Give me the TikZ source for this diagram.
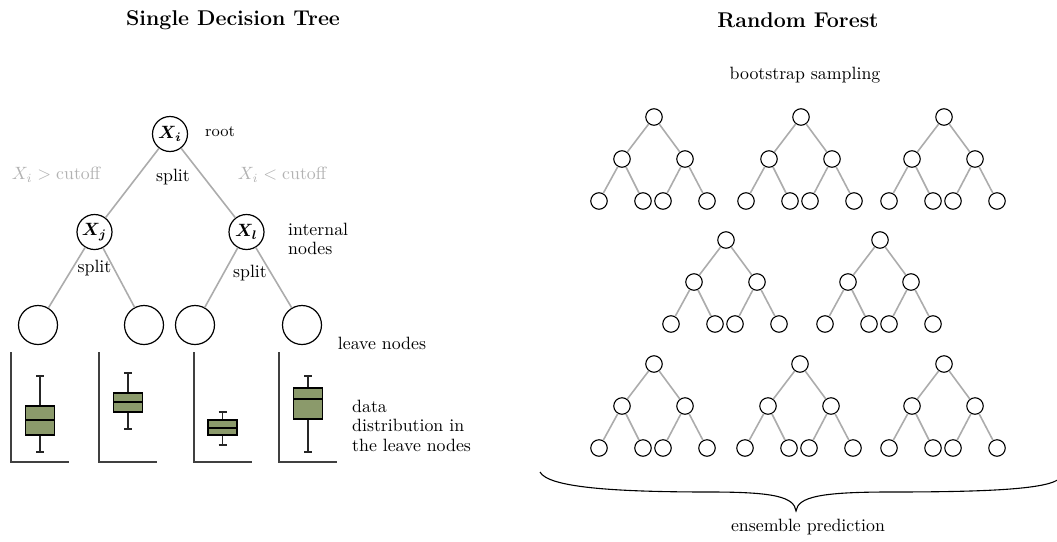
\documentclass[tikz,border=0pt]{standalone}
\usepackage{amsmath,bm,graphicx}
\definecolor{edgegray}{RGB}{172,172,172}
\definecolor{labelgray}{RGB}{178,178,178}
\definecolor{boxgreen}{RGB}{139,154,107}
% text is set at its normal design size and enlarged as a whole
\newcommand\enl[1]{\scalebox{1.78}{#1}}
\newcommand\lines[1]{\enl{\fontsize{10}{11.2}\selectfont\begin{tabular}{@{}l@{}}#1\end{tabular}}}
\tikzset{
  txt/.style={inner sep=0pt},
  vnode/.style={circle, draw=black, line width=1.2pt, minimum size=35pt, inner sep=0pt},
  leafnode/.style={circle, draw=black, line width=1.2pt, minimum size=39pt, inner sep=0pt},
  tnode/.style={circle, draw=black, line width=1.1pt, minimum size=16.5pt, inner sep=0pt},
  edge/.style={draw=edgegray, line width=1.6pt},
  axisline/.style={draw=black!75, line width=1.2pt},
  boxpart/.style={draw=black, line width=1.2pt},
  whisker/.style={draw=black!85, line width=1.1pt},
}
% one box plot: centre x, box top/median/bottom, whisker ends
\newcommand\leafbox[6]{%
  \draw[whisker] (#1,#5) -- (#1,#6);
  \draw[whisker] (#1-4,#5) -- (#1+4,#5) (#1-4,#6) -- (#1+4,#6);
  \draw[boxpart, fill=boxgreen] (#1-14.5,#2) rectangle (#1+14.5,#4);
  \draw[boxpart] (#1-14.5,#3) -- (#1+14.5,#3);
}
% a small binary tree of depth two, rooted at (#2,#3)
\newcommand\minitree[3]{%
  \node[tnode] (#1r)  at (#2,#3) {};
  \node[tnode] (#1a)  at (#2-32,#3+42) {};
  \node[tnode] (#1b)  at (#2+31,#3+42) {};
  \node[tnode] (#1aa) at (#2-55,#3+84) {};
  \node[tnode] (#1ab) at (#2-11,#3+84) {};
  \node[tnode] (#1ba) at (#2+9,#3+84) {};
  \node[tnode] (#1bb) at (#2+53,#3+84) {};
  \draw[edge] (#1r) -- (#1a) (#1r) -- (#1b) (#1a) -- (#1aa) (#1a) -- (#1ab)
              (#1b) -- (#1ba) (#1b) -- (#1bb);
}
\begin{document}
\begin{tikzpicture}[x=1pt, y=-1pt]
  \useasboundingbox (0,0) rectangle (1057,541);

  % ---------- single decision tree ----------
  \node[txt] (titleL) at (233,20) {\enl{\large\bfseries Single Decision Tree}};

  \node[vnode] (xi) at (170,134) {\enl{$\bm{X_i}$}};
  \node[vnode] (xj) at (94.5,232) {\enl{$\bm{X_j}$}};
  \node[vnode] (xl) at (246.5,232) {\enl{$\bm{X_l}$}};
  \node[leafnode] (l1) at (38,325) {};
  \node[leafnode] (l2) at (144,325) {};
  \node[leafnode] (l3) at (195,325) {};
  \node[leafnode] (l4) at (302,325) {};

  \draw[edge] (xi) -- (xj);
  \draw[edge] (xi) -- (xl);
  \draw[edge] (xj) -- (l1);
  \draw[edge] (xj) -- (l2);
  \draw[edge] (xl) -- (l3);
  \draw[edge] (xl) -- (l4);

  \node[txt, anchor=west] (rootlbl) at (205,132) {\enl{\small root}};
  \node[txt, text=labelgray] (gt) at (56,175) {\enl{$X_i > \text{cutoff}$}};
  \node[txt, text=labelgray] (lt) at (282,175) {\enl{$X_i < \text{cutoff}$}};
  \node[txt] (sp1) at (173,177) {\enl{split}};
  \node[txt] (sp2) at (94.5,268) {\enl{split}};
  \node[txt] (sp3) at (250,273) {\enl{split}};
  \node[txt, anchor=west] (intl) at (288,241) {\lines{internal\\nodes}};
  \node[txt] (leavelbl) at (382,343) {\enl{leave nodes}};
  \node[txt, anchor=west] (datalbl) at (352,428)
       {\lines{data\\distribution in\\the leave nodes}};

  % axes of the leaf distributions
  \draw[axisline] (11,352) -- (11,462) -- (69,462);
  \draw[axisline] (99,352) -- (99,462) -- (157,462);
  \draw[axisline] (194,352) -- (194,462) -- (252,462);
  \draw[axisline] (279,352) -- (279,462) -- (337,462);

  \leafbox{40}{406}{420}{435}{376}{452}
  \leafbox{128}{393}{402}{412}{373}{429}
  \leafbox{222.5}{420}{428}{435}{412}{445}
  \leafbox{308}{388}{399}{419}{376}{452}

  % ---------- random forest ----------
  \node[txt] (titleR) at (798,20) {\enl{\large\bfseries Random Forest}};
  \node[txt] (boot) at (805,75) {\enl{bootstrap sampling}};

  \minitree{ta}{654}{117}
  \minitree{tb}{801}{117}
  \minitree{tc}{944}{117}
  \minitree{td}{726}{240}
  \minitree{te}{880}{240}
  \minitree{tf}{654}{364}
  \minitree{tg}{800}{364}
  \minitree{th}{944}{364}

  % brace gathering the trees
  \coordinate (bl) at (540,472);
  \coordinate (bt) at (796,511);
  \coordinate (br) at (1060,478);
  \draw[line width=1.1pt] (bl) .. controls (548,487) and (610,492) .. (710,492)
      .. controls (775,492) and (794,497) .. (bt)
      .. controls (798,497) and (820,492) .. (890,492)
      .. controls (990,492) and (1050,489) .. (br);
  \node[txt] (ens) at (808,527) {\enl{ensemble prediction}};
\end{tikzpicture}
\end{document}
